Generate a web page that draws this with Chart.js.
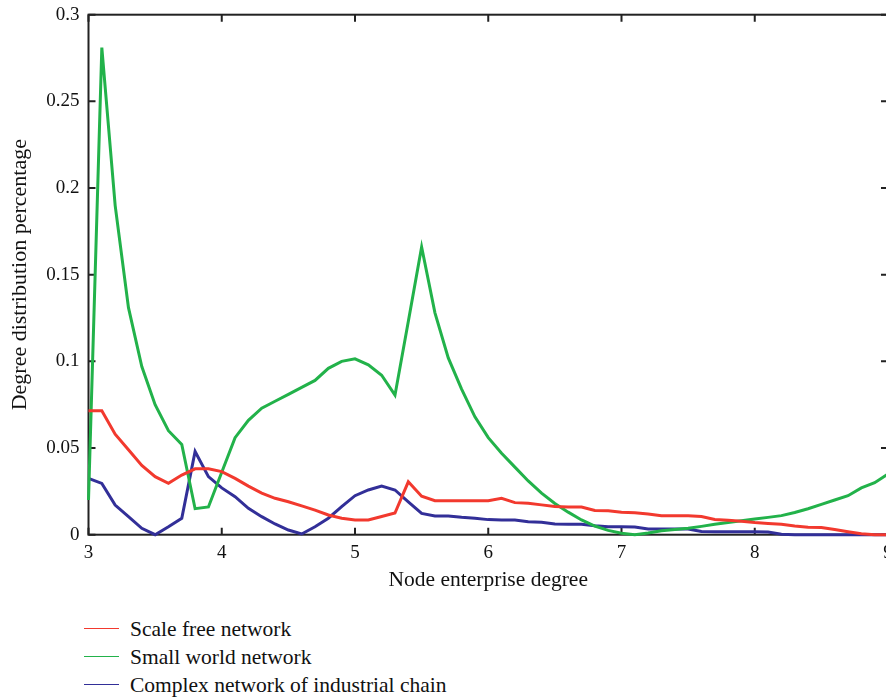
<!DOCTYPE html>
<html>
<head>
<meta charset="utf-8">
<script src="https://cdn.jsdelivr.net/npm/chart.js@4/dist/chart.umd.min.js"></script>
<style>
  html, body { margin: 0; padding: 0; overflow: hidden; background: #fff; width: 886px; height: 697px; }
  #wrap { position: absolute; left: 0; top: 0; width: 900px; height: 600px; }
  #legend { position: absolute; left: 84px; top: 615px; font-family: "Liberation Serif", "Times New Roman", serif; font-size: 21.5px; color: #111; }
  .row { position: relative; height: 28px; line-height: 28px; white-space: nowrap; }
  .swatch { position: absolute; left: 0; top: 13px; width: 35px; height: 0; border-top: 1.5px solid; }
  .lbl { position: absolute; left: 46px; top: 0; }
</style>
</head>
<body>
<div id="wrap"><canvas id="c" width="900" height="600"></canvas></div>
<div id="legend"></div>
<script>
const degrees = [3.0,3.1,3.2,3.3,3.4,3.5,3.6,3.7,3.8,3.9,4.0,4.1,4.2,4.3,4.4,4.5,4.6,4.7,4.8,4.9,5.0,5.1,5.2,5.3,5.4,5.5,5.6,5.7,5.8,5.9,6.0,6.1,6.2,6.3,6.4,6.5,6.6,6.7,6.8,6.9,7.0,7.1,7.2,7.3,7.4,7.5,7.6,7.7,7.8,7.9,8.0,8.1,8.2,8.3,8.4,8.5,8.6,8.7,8.8,8.9,9.0];

const scaleFree = [0.0715,0.0715,0.058,0.049,0.040,0.0335,0.0296,0.0344,0.038,0.038,0.0364,0.0325,0.028,0.024,0.021,0.019,0.0166,0.0142,0.0114,0.0095,0.0085,0.0085,0.0105,0.0125,0.0305,0.0222,0.0196,0.0196,0.0196,0.0196,0.0196,0.021,0.0185,0.0182,0.0172,0.0163,0.016,0.016,0.014,0.0138,0.013,0.0127,0.012,0.011,0.011,0.011,0.0105,0.0088,0.0083,0.0078,0.007,0.0065,0.006,0.005,0.0043,0.0042,0.003,0.0017,0.0005,0,0];

const smallWorld = [0.02,0.281,0.19,0.131,0.097,0.075,0.06,0.052,0.015,0.016,0.036,0.056,0.066,0.073,0.077,0.081,0.085,0.089,0.096,0.1,0.1015,0.098,0.092,0.0805,0.123,0.166,0.128,0.102,0.084,0.068,0.056,0.047,0.039,0.031,0.024,0.018,0.013,0.0085,0.005,0.0025,0.0008,0.0,0.001,0.0023,0.003,0.0037,0.0048,0.006,0.007,0.008,0.009,0.010,0.011,0.0128,0.015,0.0175,0.02,0.0225,0.027,0.030,0.035];

const industrial = [0.0325,0.0296,0.0171,0.0104,0.0037,0,0.0046,0.0095,0.048,0.0335,0.027,0.0219,0.0152,0.0104,0.0062,0.0027,0.0004,0.0046,0.0095,0.0162,0.0225,0.0258,0.0281,0.0258,0.019,0.0123,0.0108,0.0108,0.010,0.0095,0.0087,0.0085,0.0085,0.0075,0.0072,0.0062,0.006,0.006,0.0052,0.0046,0.0046,0.0044,0.0033,0.0033,0.0033,0.0033,0.0018,0.0017,0.0017,0.0017,0.0017,0.0015,0.0003,0,0,0,0,0,0,0,0];

const seriesNames = ["Scale free network", "Small world network", "Complex network of industrial chain"];
const seriesColors = ["#f2392e", "#22b24a", "#322f98"];
const xTickLabels = ["3","4","5","6","7","8","9"];
const yTickLabels = ["0","0.05","0.1","0.15","0.2","0.25","0.3"];

const FONT = '"Liberation Serif", "Times New Roman", serif';
const seriesData = [scaleFree, smallWorld, industrial];

const frame = {
  id: 'frame',
  beforeDatasetsDraw(chart) {
    const {ctx, chartArea: a, scales: {x, y}} = chart;
    ctx.save();
    ctx.strokeStyle = '#222';
    ctx.lineWidth = 2;
    ctx.strokeRect(a.left, a.top, a.right - a.left, a.bottom - a.top);
    const L = 7;
    ctx.beginPath();
    x.ticks.forEach(t => {
      const px = x.getPixelForValue(t.value);
      ctx.moveTo(px, a.bottom); ctx.lineTo(px, a.bottom - L);
      ctx.moveTo(px, a.top); ctx.lineTo(px, a.top + L);
    });
    y.ticks.forEach(t => {
      const py = y.getPixelForValue(t.value);
      ctx.moveTo(a.left, py); ctx.lineTo(a.left + L, py);
      ctx.moveTo(a.right, py); ctx.lineTo(a.right - L, py);
    });
    ctx.stroke();
    ctx.restore();
  }
};

new Chart(document.getElementById('c'), {
  type: 'line',
  data: {
    datasets: seriesData.map((vals, i) => ({
      label: seriesNames[i],
      data: degrees.map((d, j) => ({x: d, y: vals[j]})),
      borderColor: seriesColors[i],
      backgroundColor: seriesColors[i],
      borderWidth: 3,
      pointRadius: 0,
      tension: 0,
      clip: false
    }))
  },
  options: {
    responsive: false,
    animation: false,
    events: [],
    layout: { padding: { top: 14.7, right: 12, left: 0, bottom: 0 } },
    plugins: { legend: { display: false }, tooltip: { enabled: false } },
    scales: {
      x: {
        type: 'linear', min: 3, max: 9,
        grid: { display: false, drawTicks: false },
        border: { display: false },
        ticks: {
          stepSize: 1, padding: 7, color: '#111',
          font: { family: FONT, size: 19 },
          callback: (v, i) => xTickLabels[i]
        },
        title: { display: true, text: 'Node enterprise degree', color: '#111',
                 font: { family: FONT, size: 21.5 }, padding: { top: 0, bottom: 7 } },
        afterFit: s => { s.height = 65.3; s.paddingLeft = 0; s.paddingRight = 0; }
      },
      y: {
        min: 0, max: 0.3,
        grid: { display: false, drawTicks: false },
        border: { display: false },
        ticks: {
          stepSize: 0.05, padding: 9, color: '#111',
          font: { family: FONT, size: 19 },
          callback: (v, i) => yTickLabels[i]
        },
        title: { display: true, text: 'Degree distribution percentage', color: '#111',
                 font: { family: FONT, size: 22 }, padding: { top: 7, bottom: 0 } },
        afterFit: s => { s.width = 88.5; s.paddingTop = 0; s.paddingBottom = 0; }
      }
    }
  },
  plugins: [frame]
});

const leg = document.getElementById('legend');
seriesNames.forEach((n, i) => {
  const r = document.createElement('div'); r.className = 'row';
  const s = document.createElement('span'); s.className = 'swatch'; s.style.borderTopColor = seriesColors[i];
  const t = document.createElement('span'); t.className = 'lbl'; t.textContent = n;
  r.appendChild(s); r.appendChild(t); leg.appendChild(r);
});
</script>
</body>
</html>
